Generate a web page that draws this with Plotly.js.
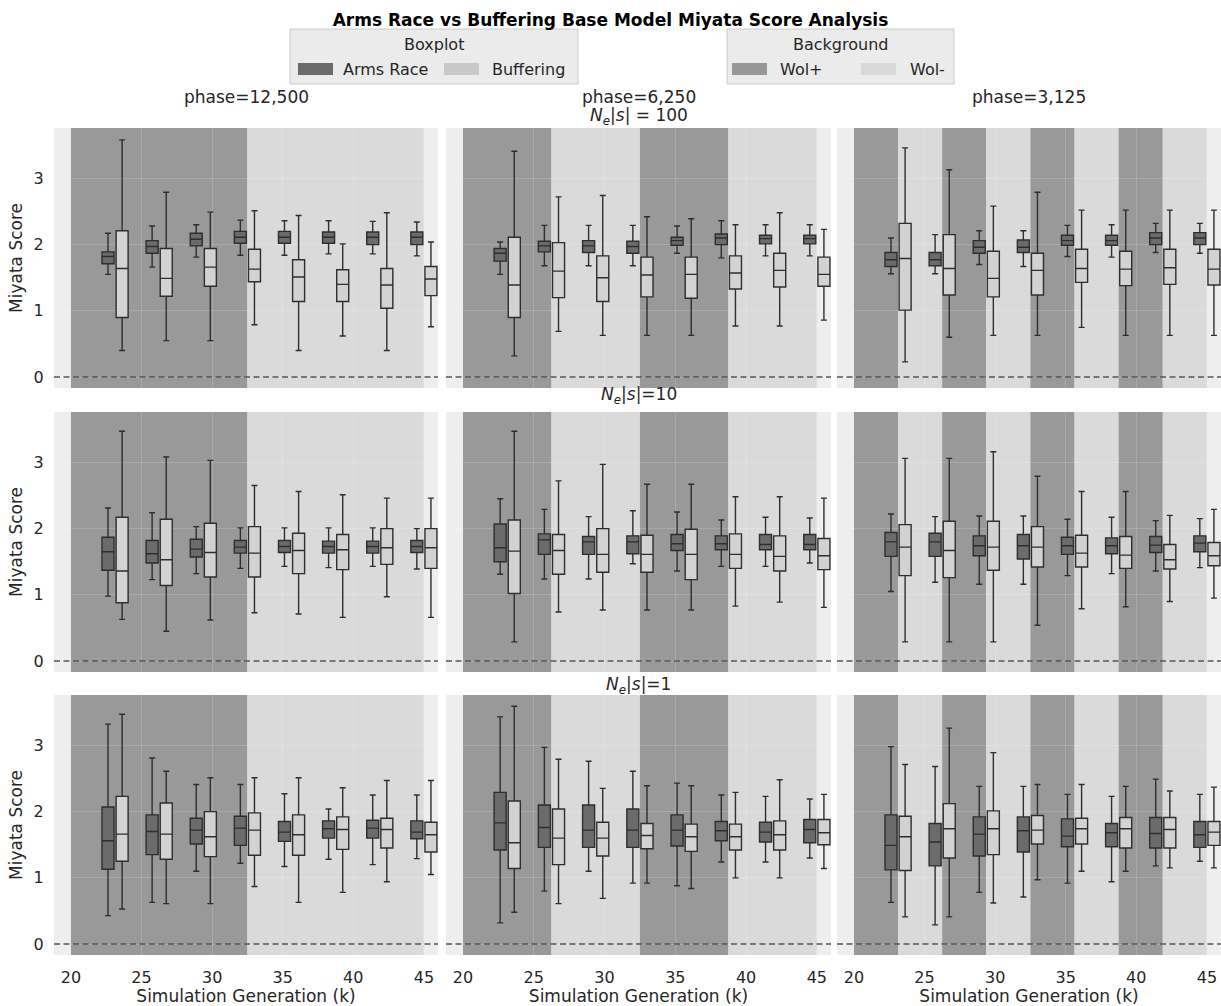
<!DOCTYPE html>
<html><head><meta charset="utf-8">
<script src="https://cdn.plot.ly/plotly-3.0.1.min.js"></script>
<style>html,body{margin:0;padding:0;background:#fff}</style>
</head><body><div id="chart" style="width:1221px;height:1006px"></div>
<script>
// ---- DATA ----
const generations = [23.125, 26.25, 29.375, 32.5, 35.625, 38.75, 41.875, 45];
const phaseTitles = ['phase=12,500', 'phase=6,250', 'phase=3,125'];
const phaseLengthsK = [12.5, 6.25, 3.125];
const neValues = ['100', '10', '1'];
const xTickVals = [20, 25, 30, 35, 40, 45];
const yTickVals = [0, 1, 2, 3];
const seriesNames = ['Arms Race', 'Buffering'];
const backgroundNames = ['Wol+', 'Wol-'];

// each entry: [lowerWhisker, q1, median, q3, upperWhisker] per generation
const armsRace_ne100_ph12500 = [[1.55,1.71,1.82,1.89,2.17],[1.66,1.87,1.97,2.06,2.28],[1.81,1.98,2.08,2.17,2.30],[1.84,2.02,2.11,2.20,2.37],[1.84,2.02,2.11,2.20,2.36],[1.86,2.02,2.11,2.19,2.36],[1.86,2.00,2.11,2.19,2.35],[1.83,2.00,2.11,2.19,2.34]];
const buffering_ne100_ph12500 = [[0.40,0.90,1.64,2.21,3.58],[0.55,1.22,1.49,1.94,2.79],[0.55,1.37,1.66,1.94,2.49],[0.79,1.44,1.63,1.93,2.51],[0.40,1.14,1.51,1.77,2.44],[0.62,1.14,1.40,1.62,2.01],[0.40,1.04,1.39,1.64,2.48],[0.76,1.23,1.48,1.67,2.04]];
const armsRace_ne100_ph6250 = [[1.55,1.75,1.87,1.94,2.04],[1.68,1.89,1.98,2.05,2.29],[1.68,1.88,1.98,2.06,2.29],[1.68,1.87,1.97,2.05,2.29],[1.87,1.99,2.06,2.11,2.28],[1.80,2.00,2.10,2.16,2.36],[1.83,2.01,2.09,2.14,2.30],[1.83,2.01,2.09,2.14,2.30]];
const buffering_ne100_ph6250 = [[0.32,0.90,1.39,2.11,3.41],[0.69,1.20,1.60,2.03,2.72],[0.63,1.14,1.50,1.83,2.74],[0.63,1.21,1.54,1.81,2.42],[0.63,1.19,1.55,1.81,2.39],[0.77,1.33,1.57,1.83,2.30],[0.77,1.36,1.61,1.87,2.48],[0.86,1.37,1.55,1.81,2.23]];
const armsRace_ne100_ph3125 = [[1.56,1.67,1.77,1.88,2.10],[1.56,1.68,1.77,1.88,2.15],[1.70,1.87,1.96,2.06,2.21],[1.67,1.88,1.96,2.07,2.21],[1.82,1.99,2.06,2.14,2.29],[1.81,1.99,2.06,2.14,2.30],[1.88,2.00,2.10,2.18,2.32],[1.87,2.00,2.10,2.18,2.32]];
const buffering_ne100_ph3125 = [[0.23,1.01,1.79,2.32,3.46],[0.60,1.24,1.64,2.15,3.13],[0.63,1.21,1.49,1.90,2.58],[0.63,1.24,1.61,1.87,2.79],[0.75,1.43,1.64,1.93,2.52],[0.63,1.38,1.63,1.90,2.52],[0.63,1.40,1.65,1.93,2.52],[0.63,1.39,1.63,1.93,2.52]];

const armsRace_ne10_ph12500 = [[0.98,1.37,1.65,1.87,2.31],[1.23,1.48,1.62,1.82,2.24],[1.32,1.57,1.69,1.84,2.03],[1.40,1.63,1.72,1.82,2.01],[1.43,1.64,1.73,1.82,2.01],[1.41,1.63,1.73,1.81,2.01],[1.43,1.63,1.73,1.81,2.01],[1.39,1.64,1.73,1.82,2.00]];
const buffering_ne10_ph12500 = [[0.63,0.88,1.36,2.17,3.47],[0.45,1.14,1.53,2.14,3.08],[0.62,1.27,1.64,2.08,3.03],[0.73,1.27,1.63,2.03,2.65],[0.71,1.32,1.67,1.93,2.56],[0.66,1.38,1.68,1.91,2.51],[0.97,1.46,1.71,2.00,2.46],[0.66,1.40,1.71,2.00,2.46]];
const armsRace_ne10_ph6250 = [[1.31,1.50,1.71,2.07,2.45],[1.24,1.61,1.83,1.92,2.29],[1.24,1.61,1.80,1.88,2.18],[1.47,1.62,1.80,1.89,2.27],[1.36,1.67,1.77,1.91,2.25],[1.43,1.68,1.77,1.89,2.13],[1.43,1.68,1.76,1.91,2.17],[1.48,1.68,1.76,1.91,2.16]];
const buffering_ne10_ph6250 = [[0.29,1.02,1.66,2.13,3.47],[0.74,1.31,1.67,1.91,2.72],[0.77,1.34,1.61,2.00,2.97],[0.77,1.34,1.61,1.90,2.67],[0.77,1.23,1.61,1.99,2.67],[0.83,1.40,1.61,1.92,2.48],[0.89,1.36,1.58,1.89,2.48],[0.81,1.38,1.59,1.85,2.46]];
const armsRace_ne10_ph3125 = [[1.05,1.58,1.80,1.94,2.22],[1.19,1.58,1.80,1.93,2.18],[1.16,1.59,1.74,1.89,2.19],[1.16,1.54,1.74,1.91,2.19],[1.29,1.61,1.74,1.87,2.14],[1.32,1.62,1.74,1.86,2.17],[1.36,1.64,1.75,1.88,2.12],[1.41,1.65,1.78,1.89,2.15]];
const buffering_ne10_ph3125 = [[0.29,1.29,1.72,2.06,3.06],[0.29,1.26,1.67,2.11,3.06],[0.29,1.37,1.72,2.11,3.16],[0.54,1.42,1.72,2.03,2.79],[0.79,1.42,1.63,1.90,2.56],[0.82,1.40,1.60,1.88,2.56],[0.90,1.39,1.53,1.76,2.20],[0.95,1.44,1.59,1.79,2.29]];

const armsRace_ne1_ph12500 = [[0.43,1.13,1.56,2.07,3.32],[0.63,1.35,1.70,1.95,2.81],[1.10,1.51,1.72,1.90,2.41],[1.22,1.49,1.75,1.93,2.41],[1.17,1.55,1.69,1.85,2.27],[1.28,1.60,1.74,1.86,2.04],[1.20,1.60,1.75,1.87,2.25],[1.29,1.59,1.69,1.86,2.25]];
const buffering_ne1_ph12500 = [[0.53,1.25,1.66,2.23,3.47],[0.61,1.28,1.66,2.13,2.61],[0.61,1.32,1.62,2.00,2.51],[0.87,1.34,1.72,1.98,2.51],[0.63,1.34,1.65,1.95,2.51],[0.78,1.43,1.73,1.92,2.36],[0.94,1.45,1.73,1.90,2.47],[1.05,1.39,1.65,1.84,2.47]];
const armsRace_ne1_ph6250 = [[0.32,1.42,1.83,2.29,3.43],[0.80,1.46,1.76,2.10,2.97],[1.10,1.46,1.72,2.10,2.76],[0.92,1.46,1.72,2.04,2.61],[0.88,1.48,1.72,1.95,2.43],[1.24,1.56,1.71,1.85,2.25],[1.24,1.54,1.69,1.84,2.23],[1.30,1.53,1.73,1.88,2.19]];
const buffering_ne1_ph6250 = [[0.48,1.14,1.53,2.16,3.59],[0.61,1.20,1.60,2.04,2.79],[0.69,1.33,1.60,1.84,2.35],[0.92,1.44,1.64,1.82,2.39],[0.84,1.40,1.62,1.81,2.39],[1.00,1.42,1.62,1.81,2.29],[1.00,1.42,1.65,1.86,2.48],[1.14,1.50,1.68,1.88,2.26]];
const armsRace_ne1_ph3125 = [[0.63,1.12,1.49,1.95,2.98],[0.29,1.18,1.54,1.82,2.68],[0.78,1.33,1.66,1.92,2.38],[0.71,1.39,1.71,1.92,2.38],[0.92,1.47,1.63,1.89,2.26],[0.94,1.47,1.68,1.82,2.23],[1.18,1.45,1.67,1.91,2.49],[1.25,1.46,1.65,1.85,2.26]];
const buffering_ne1_ph3125 = [[0.41,1.11,1.62,1.93,2.71],[0.41,1.30,1.74,2.12,3.26],[0.62,1.35,1.74,2.01,2.89],[0.97,1.51,1.72,1.94,2.41],[1.10,1.51,1.74,1.90,2.41],[1.10,1.45,1.74,1.91,2.38],[1.15,1.45,1.73,1.91,2.31],[1.15,1.49,1.69,1.85,2.37]];

const panels = [
  [armsRace_ne100_ph12500, buffering_ne100_ph12500], [armsRace_ne100_ph6250, buffering_ne100_ph6250], [armsRace_ne100_ph3125, buffering_ne100_ph3125],
  [armsRace_ne10_ph12500, buffering_ne10_ph12500], [armsRace_ne10_ph6250, buffering_ne10_ph6250], [armsRace_ne10_ph3125, buffering_ne10_ph3125],
  [armsRace_ne1_ph12500, buffering_ne1_ph12500], [armsRace_ne1_ph6250, buffering_ne1_ph6250], [armsRace_ne1_ph3125, buffering_ne1_ph3125]
];

// ---- STYLE / LAYOUT ----
const W = 1221, H = 1006;
const colPx = [[54, 438], [446, 831], [837, 1221]];
const rowPx = [[128, 388], [412, 672], [695, 955]];
const xRange = [18.8, 46.0], yRange = [-0.165, 3.76];
const simStart = 20, simEnd = 45;
const boxFill = ['#6b6b6b', '#d2d2d2'];
const boxLine = '#2e2e2e';
const bandColors = ['#999999', '#dadada'];
const offsets = [-0.5, 0.5];
const textColor = '#262626';
const FONT = 'DejaVu Sans, sans-serif';

const px = v => v / W, py = v => 1 - v / H;

const traces = [], shapes = [], annotations = [];
const layout = {
  width: W, height: H, margin: {l: 0, r: 0, t: 0, b: 0},
  paper_bgcolor: '#ffffff', plot_bgcolor: '#eeeeee', showlegend: false,
  font: {family: FONT, color: textColor, size: 16},
  title: {text: '<b>Arms Race vs Buffering Base Model Miyata Score Analysis</b>', x: 0.5, xanchor: 'center', y: 1 - 20 / H, yanchor: 'middle', font: {size: 17, color: '#000'}},
  shapes, annotations
};

panels.forEach((pair, i) => {
  const r = Math.floor(i / 3), c = i % 3;
  const n = i === 0 ? '' : String(i + 1);
  const xa = {
    domain: [px(colPx[c][0]), px(colPx[c][1])], range: xRange, anchor: 'y' + n,
    tickvals: xTickVals, showticklabels: r === 2, ticks: 'outside', ticklen: 8, tickcolor: 'rgba(0,0,0,0)',
    showgrid: true, gridcolor: 'rgba(255,255,255,0.16)', gridwidth: 1, zeroline: false, showline: false,
    tickfont: {size: 16, color: textColor}
  };
  if (r === 2) xa.title = {text: 'Simulation Generation (k)', font: {size: 17, color: textColor}, standoff: 1};
  layout['xaxis' + n] = xa;
  const ya = {
    domain: [py(rowPx[r][1]), py(rowPx[r][0])], range: yRange, anchor: 'x' + n,
    tickvals: yTickVals, showticklabels: c === 0, ticks: 'outside', ticklen: 6, tickcolor: 'rgba(0,0,0,0)',
    showgrid: true, gridcolor: 'rgba(255,255,255,0.16)', gridwidth: 1, zeroline: false, showline: false,
    tickfont: {size: 16, color: textColor}
  };
  if (c === 0) ya.title = {text: 'Miyata Score', font: {size: 17, color: textColor}, standoff: 6};
  layout['yaxis' + n] = ya;
  // background Wol+/Wol- bands
  const L = phaseLengthsK[c];
  let k = 0;
  for (let t = simStart; t < simEnd - 1e-9; t += L, k++) {
    shapes.push({type: 'rect', xref: 'x' + n, yref: 'y' + n + ' domain', x0: t, x1: Math.min(t + L, simEnd), y0: 0, y1: 1,
      fillcolor: bandColors[k % 2], line: {width: 0}, layer: 'below'});
  }
  // zero line
  shapes.push({type: 'line', xref: 'x' + n + ' domain', yref: 'y' + n, x0: 0, x1: 1, y0: 0, y1: 0,
    line: {color: '#555555', width: 1.5, dash: '6px,3.5px'}, layer: 'above'});
  // boxes
  pair.forEach((stats, s) => {
    traces.push({
      type: 'box', name: seriesNames[s], xaxis: 'x' + n, yaxis: 'y' + n,
      x: generations.map(g => g + offsets[s]),
      lowerfence: stats.map(d => d[0]), q1: stats.map(d => d[1]), median: stats.map(d => d[2]),
      q3: stats.map(d => d[3]), upperfence: stats.map(d => d[4]),
      width: 0.85, whiskerwidth: 0.5, boxpoints: false,
      fillcolor: boxFill[s], line: {color: boxLine, width: 1.4}, hoverinfo: 'skip'
    });
  });
});

// column titles
const colCenters = colPx.map(p => (p[0] + p[1]) / 2);
phaseTitles.forEach((t, c) => annotations.push({text: t, xref: 'paper', yref: 'paper', x: px(colCenters[c]), y: py(97),
  xanchor: 'center', yanchor: 'middle', showarrow: false, font: {size: 17, color: textColor}}));
const neText = (v, sp) => '<i>N</i><sub><i>e</i></sub>|<i>s</i>|' + (sp ? ' = ' : '=') + v;
const neY = [116, 396, 685];
neValues.forEach((v, r) => annotations.push({text: neText(v, r === 0), xref: 'paper', yref: 'paper', x: px(colCenters[1]), y: py(neY[r]),
  xanchor: 'center', yanchor: 'middle', showarrow: false, font: {size: 17, color: textColor}}));

// legends (drawn as boxes)
function legendBox(x0, x1, title, items) {
  shapes.push({type: 'rect', xref: 'paper', yref: 'paper', x0: px(x0), x1: px(x1), y0: py(84), y1: py(29),
    fillcolor: '#ebebeb', line: {color: '#cccccc', width: 1}, layer: 'above'});
  annotations.push({text: title, xref: 'paper', yref: 'paper', x: px((x0 + x1) / 2), y: py(45), xanchor: 'center', yanchor: 'middle',
    showarrow: false, font: {size: 16, color: textColor}});
  items.forEach(it => {
    shapes.push({type: 'rect', xref: 'paper', yref: 'paper', x0: px(it.p), x1: px(it.p + 35), y0: py(75), y1: py(63),
      fillcolor: it.color, line: {width: 0}, layer: 'above'});
    annotations.push({text: it.label, xref: 'paper', yref: 'paper', x: px(it.t), y: py(69), xanchor: 'left', yanchor: 'middle',
      showarrow: false, font: {size: 16, color: textColor}});
  });
}
legendBox(290, 578, 'Boxplot', [{p: 298, t: 341, label: seriesNames[0], color: '#6b6b6b'}, {p: 444, t: 490, label: seriesNames[1], color: '#c8c8c8'}]);
legendBox(727, 954, 'Background', [{p: 732, t: 778, label: backgroundNames[0], color: '#979797'}, {p: 861, t: 908, label: backgroundNames[1], color: '#d8d8d8'}]);

Plotly.newPlot('chart', traces, layout, {staticPlot: true});
</script></body></html>
